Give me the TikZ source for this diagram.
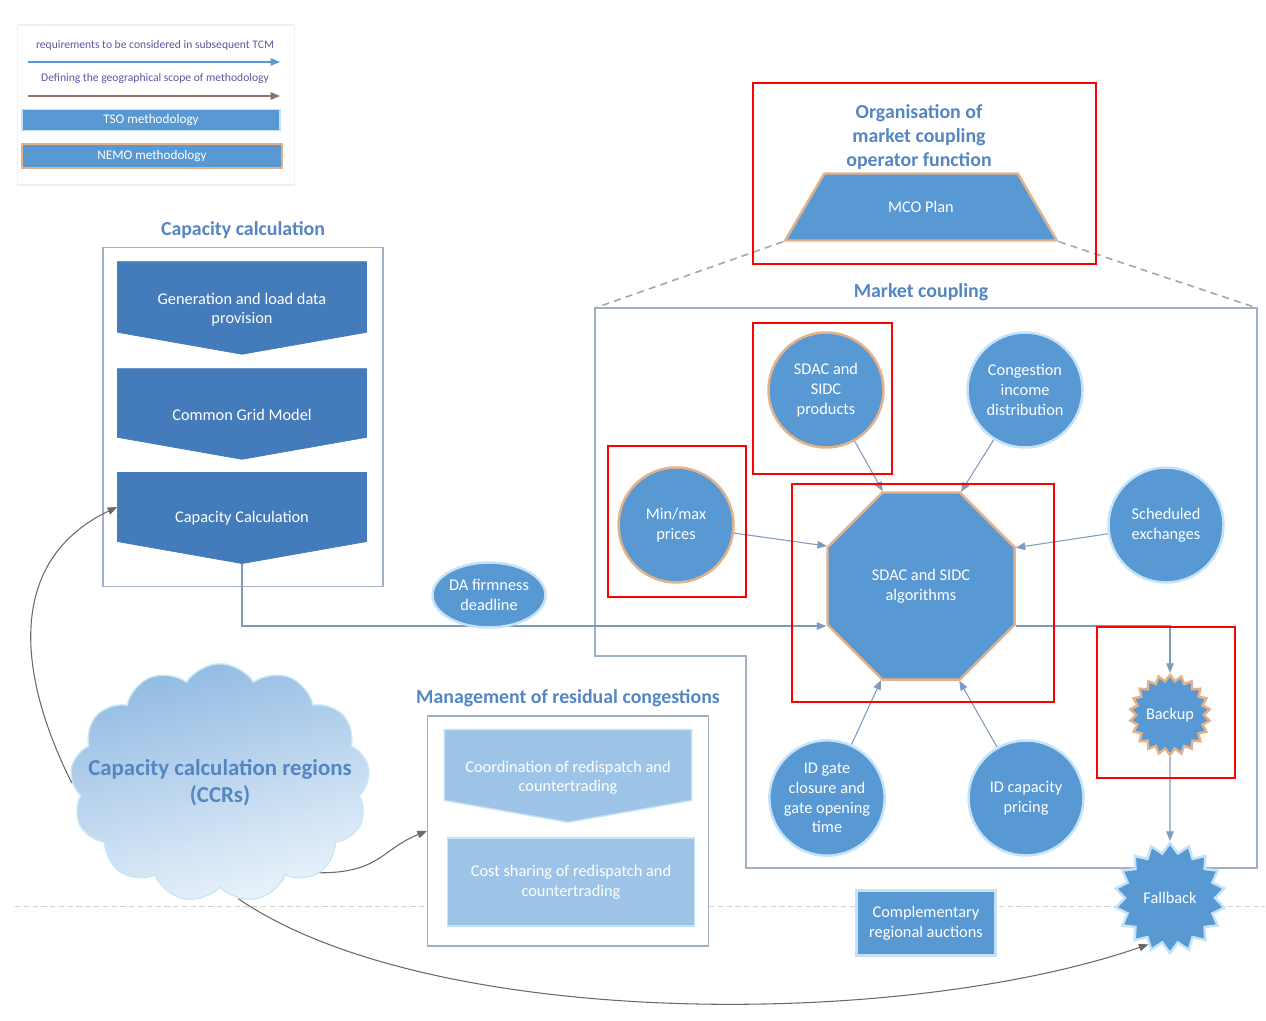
\documentclass[tikz,border=0pt]{standalone}
\usepackage{fontspec}
\setmainfont{Carlito}
\usepackage{tikz}
\usetikzlibrary{positioning,arrows.meta,shapes.geometric,shapes.symbols,calc}

\definecolor{ccblue}{RGB}{68,123,186}
\definecolor{nodeblue}{RGB}{88,153,212}
\definecolor{paleblue}{RGB}{157,196,230}
\definecolor{titleblue}{RGB}{84,134,194}
\definecolor{framegray}{RGB}{160,176,198}
\definecolor{linkblue}{RGB}{125,155,190}
\definecolor{nemoedge}{RGB}{228,178,138}
\definecolor{tsoedge}{RGB}{196,226,248}
\definecolor{curvegray}{RGB}{105,105,105}
\definecolor{brownline}{RGB}{140,115,105}
\definecolor{cloudtop}{RGB}{145,186,226}
\definecolor{cloudbot}{RGB}{234,243,251}
\definecolor{cloudedge}{RGB}{200,232,244}

\begin{document}
\begin{tikzpicture}[x=0.02cm, y=-0.02cm, >={Triangle[length=1.9mm, width=1.5mm]},
  boxtxt/.style={text=white, align=center, font=\fontsize{9.3}{11.2}\selectfont},
  heading/.style={text=titleblue, align=center, font=\fontsize{11.3}{13.6}\selectfont\bfseries},
  groupframe/.style={draw=framegray, line width=0.7pt, fill=white},
  chev/.style={signal, signal to=south, signal pointer angle=160, fill=ccblue, draw=ccblue, minimum width=4.98cm, minimum height=1.64cm, boxtxt, execute at begin node=\rule{0pt}{19.5pt}},
  mrcshape/.style={fill=paleblue, draw=tsoedge, line width=0.8pt, minimum width=4.95cm, boxtxt},
  tsonode/.style={fill=nodeblue, draw=tsoedge, line width=1.4pt, boxtxt},
  nemonode/.style={fill=nodeblue, draw=nemoedge, line width=1.4pt, boxtxt},
  mclink/.style={->, draw=linkblue, line width=0.6pt},
  ccrlink/.style={->, draw=curvegray, line width=0.6pt},
  redmark/.style={draw=red, line width=1.1pt}]
\useasboundingbox[fill=white] (0,0) rectangle (1266,1020);

% separator
\draw[draw=gray!35, line width=0.5pt, dash pattern=on 3pt off 2pt] (15,906) -- (1265,906);

% legend
\node[draw=gray!12, line width=0.6pt, minimum width=5.54cm, minimum height=3.2cm] (legend) at (156,105) {};
\node[text=gray!70!blue, font=\fontsize{6.6}{7.5}\selectfont] (lgreq) at (155,45) {requirements to be considered in subsequent TCM};
\coordinate (lgreqa) at (28,62); \coordinate (lgreqb) at (280,62);
\draw[->, draw=nodeblue, line width=0.8pt] (lgreqa) -- (lgreqb);
\node[text=gray!70!blue, font=\fontsize{6.6}{7.5}\selectfont] (lggeo) at (155,78) {Defining the geographical scope of methodology};
\coordinate (lggeoa) at (28,96); \coordinate (lggeob) at (280,96);
\draw[->, draw=brownline, line width=0.8pt] (lggeoa) -- (lggeob);
\node[tsonode, line width=0.9pt, minimum width=5.16cm, minimum height=0.42cm, inner sep=1pt, font=\fontsize{7.5}{8}\selectfont] (lgtso) at (151,120) {TSO methodology};
\node[nemonode, line width=0.9pt, minimum width=5.2cm, minimum height=0.48cm, inner sep=1pt, font=\fontsize{7.5}{8}\selectfont] (lgnemo) at (152,156) {NEMO methodology};

% capacity calculation
\node[heading] (cctitle) at (243,230) {Capacity calculation};
\node[groupframe, minimum width=5.6cm, minimum height=6.78cm] (ccbox) at (243,417) {};
\node[chev, execute at begin node=\rule{0pt}{32pt}] (gld) at (242,297) {Generation and load data\\provision};
\node[chev] (cgm) at (242,403) {Common Grid Model};
\node[chev] (ccalc) at (242,507) {Capacity Calculation};

% market coupling operator
\node[heading] (mcotitle) at (919,137) {Organisation of\\market coupling\\operator function};
\node[nemonode, trapezium, trapezium angle=56, trapezium stretches=true, minimum width=5.46cm, minimum height=1.34cm] (mco) at (921,207) {MCO Plan};

% market coupling frame
\node[heading] (mctitle) at (921,292) {Market coupling};
\coordinate (mcnw) at (595,308); \coordinate (mcne) at (1257,308);
\draw[groupframe, fill=none] (mcnw) -- (mcne) -- (1257,868) -- (746,868) -- (746,656) -- (595,656) -- cycle;
\draw[draw=gray!70, line width=0.9pt, dash pattern=on 4pt off 3pt] (mco.bottom left corner) -- (mcnw);
\draw[draw=gray!70, line width=0.9pt, dash pattern=on 4pt off 3pt] (mco.bottom right corner) -- (mcne);

\node[nemonode, regular polygon, regular polygon sides=8, minimum size=4.05cm] (alg) at (921,586) {SDAC and SIDC\\algorithms};
\draw[mclink] (ccalc.south) |- ($(alg.west)+(0,40)$);
\node[tsonode, ellipse, minimum width=2.24cm, minimum height=1.3cm, inner sep=0pt] (dafd) at (489,595) {DA firmness\\deadline};

\foreach \n/\x/\y/\s/\lab in {sprod/826/390/nemonode/{SDAC and\\SIDC\\products}, cid/1025/390/tsonode/{Congestion\\income\\distribution}, minmax/676/525/nemonode/{Min/max\\prices}, sched/1166/525/tsonode/{Scheduled\\exchanges}, idgc/827/798/tsonode/{ID gate\\closure and\\gate opening\\time}, idcp/1026/798/tsonode/{ID capacity\\pricing}}
  \node[\s, circle, minimum size=2.3cm, inner sep=1pt] (\n) at (\x,\y) {\lab};
\foreach \n/\a in {sprod/112.5, cid/67.5, minmax/157.5, sched/22.5, idgc/247.5, idcp/292.5}
  \draw[mclink] (\n) -- (alg.\a);

\node[nemonode, star, star points=22, star point ratio=1.18, minimum size=1.6cm, inner sep=0pt] (backup) at (1170,715) {Backup};
\node[tsonode, star, star points=18, star point ratio=1.22, minimum size=2.2cm, inner sep=0pt] (fallback) at (1170,898) {Fallback};
\draw[mclink] ($(alg.east)+(0,40)$) -| (backup.north);
\draw[mclink] (backup.south) -- (fallback.north);

% residual congestions
\node[heading] (mrctitle) at (568,698) {Management of residual congestions};
\node[groupframe, minimum width=5.62cm, minimum height=4.6cm] (mrcbox) at (568,831) {};
\node[mrcshape, signal, signal to=south, signal pointer angle=160, minimum height=1.64cm, execute at begin node=\rule{0pt}{32pt}] (redisp) at (568,765) {Coordination of redispatch and\\countertrading};
\node[mrcshape, minimum height=1.76cm] (costshare) at (571,882) {Cost sharing of redispatch and\\countertrading};

\node[tsonode, minimum width=2.78cm, minimum height=1.3cm, inner sep=1pt] (cra) at (926,923) {Complementary\\regional auctions};

% CCR cloud
\node[cloud, cloud puffs=13, cloud puff arc=115, aspect=1.35, inner xsep=-0.65cm, inner ysep=0pt, minimum width=5.14cm, minimum height=3.62cm, draw=cloudedge, line width=0.8pt, top color=cloudtop, bottom color=cloudbot, shading angle=15, text=titleblue, font=\fontsize{13}{15.3}\selectfont\bfseries, align=center] (ccr) at (220,783) {Capacity calculation regions\\(CCRs)};
\draw[ccrlink] (ccr.west) .. controls +(-60,-120) and +(-105,50) .. (ccalc.west);
\draw[ccrlink] (ccr.-42) .. controls +(60,0) and +(-45,18) .. (mrcbox.west);
\draw[ccrlink] (ccr.-81) .. controls (430,1030) and (900,1030) .. (fallback.245);

% highlights
\draw[redmark] (753,83) rectangle (1096,264);
\draw[redmark] (753,323) rectangle (892,474);
\draw[redmark] (608,446) rectangle (746,597);
\draw[redmark] (792,484) rectangle (1054,702);
\draw[redmark] (1097,627) rectangle (1235,778);
\end{tikzpicture}
\end{document}
